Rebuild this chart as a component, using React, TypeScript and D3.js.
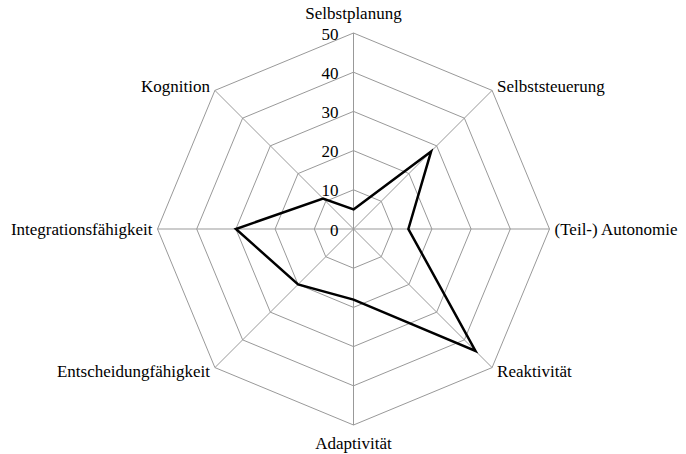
import * as d3 from 'd3';

const axes = [
	'Selbstplanung',
	'Selbststeuerung',
	'(Teil-) Autonomie',
	'Reaktivität',
	'Adaptivität',
	'Entscheidungfähigkeit',
	'Integrationsfähigkeit',
	'Kognition',
];
const values = [5, 28, 14, 44, 18, 20, 30, 11];
const ticks = [0, 10, 20, 30, 40, 50];

const width = 686;
const height = 454;
const cx = 353.5;
const cy = 229;
const R = 196;
const font = '"Liberation Serif", "Times New Roman", serif';

export default function App() {
	const r = d3.scaleLinear().domain([0, 50]).range([0, R]);
	const angle = d3
		.scaleLinear()
		.domain([0, axes.length])
		.range([0, 2 * Math.PI]);

	const pt = (i: number, v: number): [number, number] => {
		const a = angle(i);
		return [cx + r(v) * Math.sin(a), cy - r(v) * Math.cos(a)];
	};

	const ring = (v: number) =>
		d3.line()(axes.map((_, i) => pt(i, v))) + 'Z';

	const dataPath = d3.line()(values.map((v, i) => pt(i, v))) + 'Z';

	// label placement per axis
	const labelPos = axes.map((_, i) => {
		const [x, y] = pt(i, 50);
		const s = Math.sin(angle(i));
		const c = Math.cos(angle(i));
		let anchor = 'middle';
		let dx = 0;
		let dy = 0;
		if (s > 0.1) {
			anchor = 'start';
			dx = 5;
		} else if (s < -0.1) {
			anchor = 'end';
			dx = -5;
		}
		if (c > 0.9) dy = -20;
		else if (c < -0.9) dy = 18;
		else if (c > 0.1) dy = -4;
		else if (c < -0.1) dy = 4;
		return { x: x + dx, y: y + dy, anchor };
	});

	return (
		<svg
			width={width}
			height={height}
			style={{ position: 'absolute', left: 0, top: 0, background: '#fff' }}
			fontFamily={font}
		>
			{ticks.slice(1).map(t => (
				<path key={t} d={ring(t)} fill="none" stroke="#999" strokeWidth={1} />
			))}
			{axes.map((_, i) => {
				const [x, y] = pt(i, 50);
				return <line key={i} x1={cx} y1={cy} x2={x} y2={y} stroke="#999" strokeWidth={1} />;
			})}
			<path d={dataPath} fill="none" stroke="#000" strokeWidth={2.5} strokeLinejoin="miter" />
			{ticks.map(t => (
				<text
					key={t}
					x={cx - 15}
					y={cy - r(t) + 1}
					textAnchor="end"
					dominantBaseline="central"
					fontSize={17}
					fill="#000"
				>
					{t}
				</text>
			))}
			{axes.map((name, i) => (
				<text
					key={name}
					x={labelPos[i].x}
					y={labelPos[i].y}
					textAnchor={labelPos[i].anchor}
					dominantBaseline="central"
					fontSize={17}
					fill="#000"
				>
					{name}
				</text>
			))}
		</svg>
	);
}
